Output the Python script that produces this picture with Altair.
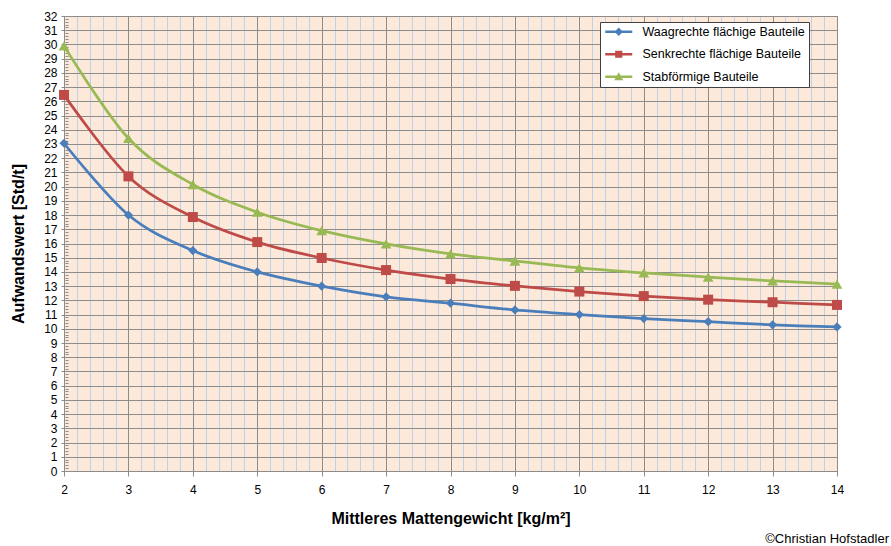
import altair as alt
import pandas as pd

# ---- data ----
x_vals = [2, 3, 4, 5, 6, 7, 8, 9, 10, 11, 12, 13, 14]
waagrecht = [23.05, 18.0, 15.5, 14.0, 13.0, 12.25, 11.8, 11.33, 11.0, 10.72, 10.5, 10.28, 10.13]
senkrecht = [26.45, 20.72, 17.86, 16.1, 14.98, 14.13, 13.5, 13.02, 12.62, 12.3, 12.05, 11.87, 11.68]
stabfoermig = [29.9, 23.4, 20.15, 18.2, 16.9, 15.97, 15.27, 14.77, 14.28, 13.93, 13.64, 13.37, 13.15]

series_names = ["Waagrechte flächige Bauteile", "Senkrechte flächige Bauteile", "Stabförmige Bauteile"]
series_values = [waagrecht, senkrecht, stabfoermig]
colors = ["#4A7EBB", "#BE4B48", "#98B954"]
shapes = ["diamond", "square", "triangle-up"]
marker_sizes = [85, 100, 115]

x_ticks = [round(2 + 0.2 * i, 1) for i in range(61)]
y_ticks = [round(0.2 * i, 1) for i in range(161)]

# legend symbols: a thin bar (the line) with the marker in the middle
legend_paths = [
    "M-2.25,-0.2H2.25V0.2H-2.25ZM0,-0.7L0.7,0L0,0.7L-0.7,0Z",
    "M-2.25,-0.2H2.25V0.2H-2.25ZM-0.6,-0.6H0.6V0.6H-0.6Z",
    "M-2.25,-0.2H2.25V0.2H-2.25ZM0,-0.75L0.75,0.6L-0.75,0.6Z",
]

rows = []
for name, vals in zip(series_names, series_values):
    for xv, yv in zip(x_vals, vals):
        rows.append({"x": xv, "y": yv, "series": name})
df = pd.DataFrame(rows)

FONT = "Liberation Sans"
GRID = "#8c8c8c"
is_int = "abs(datum.value - round(datum.value)) < 0.01"
label_expr = f"{is_int} ? format(datum.value, 'd') : ''"

x_axis = alt.Axis(
    values=x_ticks, title="Mittleres Mattengewicht [kg/m²]",
    labelExpr=label_expr, tickCount=1000,
    labelOverlap=False, labelFlush=False, labelFont=FONT, labelFontSize=12,
    labelColor="black", labelPadding=8,
    grid=True,
    gridColor={"condition": {"test": is_int, "value": GRID}, "value": "#bfd1e8"},
    gridWidth=1,
    ticks=True, tickColor=GRID,
    tickSize={"condition": {"test": is_int, "value": 5}, "value": 0},
    domain=False,
    titleFont=FONT, titleFontSize=16, titleFontWeight="bold", titleColor="black",
    titlePadding=15,
)

y_axis = alt.Axis(
    values=y_ticks, title="Aufwandswert [Std/t]",
    labelExpr=label_expr, tickCount=1000,
    labelOverlap=False, labelFlush=False, labelFont=FONT, labelFontSize=12,
    labelColor="black", labelPadding=4,
    grid=True, gridColor=GRID, gridWidth=1,
    gridOpacity={"condition": {"test": is_int, "value": 1}, "value": 0},
    ticks=True, tickColor=GRID,
    tickSize={"condition": {"test": is_int, "value": 7}, "value": 3},
    offset=-4,
    domain=False,
    titleFont=FONT, titleFontSize=16, titleFontWeight="bold", titleColor="black",
    titlePadding=17,
)

legend = alt.Legend(
    title=None, orient="none", legendX=536, legendY=6,
    fillColor="white", strokeColor="#404040", padding=3.5,
    labelFont=FONT, labelFontSize=12.5, labelColor="black", labelLimit=300,
    labelOffset=17.5, symbolOffset=9,
    symbolSize=144, symbolStrokeWidth=0, rowPadding=9.5, symbolOpacity=1,
)

x_enc = alt.X("x:Q", scale=alt.Scale(domain=[2, 14], nice=False, zero=False), axis=x_axis)
y_enc = alt.Y("y:Q", scale=alt.Scale(domain=[0, 32], nice=False), axis=y_axis)

base = alt.Chart(df)
# tiny layer underneath the real markers; it only carries the legend
legend_layer = base.mark_point(filled=True, size=4, opacity=1).encode(
    x=x_enc, y=y_enc,
    color=alt.Color("series:N", scale=alt.Scale(domain=series_names, range=colors), legend=legend),
    shape=alt.Shape("series:N", scale=alt.Scale(domain=series_names, range=legend_paths), legend=legend),
)
line_layers = [
    base.transform_filter(alt.datum.series == name).mark_line(
        interpolate="cardinal", strokeWidth=2.75, color=col
    ).encode(x=x_enc, y=y_enc)
    for name, col in zip(series_names, colors)
]
point_layers = [
    base.transform_filter(alt.datum.series == name).mark_point(
        filled=True, opacity=1, shape=shp, size=sz, color=col
    ).encode(x=x_enc, y=y_enc)
    for name, col, shp, sz in zip(series_names, colors, shapes, marker_sizes)
]

chart = alt.layer(legend_layer, *line_layers, *point_layers).properties(
    width=773, height=455,
    background="white",
    autosize=alt.AutoSizeParams(type="none"),
    padding={"left": 64, "top": 16, "right": 54, "bottom": 75},
    title=alt.Title("©Christian Hofstadler", orient="bottom", anchor="end", frame="group",
                    fontSize=13, fontWeight="normal", font=FONT, color="black",
                    dx=52, offset=7),
).configure_view(
    fill="#FDE9D9", stroke=GRID, strokeWidth=1
)

chart.save("out.html", embed_options={"renderer": "svg", "actions": False})
